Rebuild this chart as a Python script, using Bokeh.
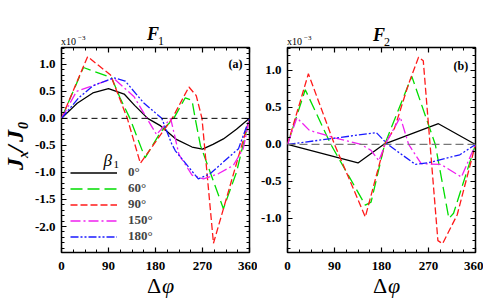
from bokeh.plotting import figure
from bokeh.layouts import row, column
from bokeh.models import (Range1d, FixedTicker, PrintfTickFormatter, LinearAxis,
                          Label, Legend, LegendItem, Span, Div)
from bokeh.embed import file_html
from bokeh.resources import INLINE

# ---------------- data (units of 1e-3) ----------------
x_ticks = [0, 90, 180, 270, 360]
x_minor = [22.5 * i for i in range(17)]
series_labels = ["0°", "60°", "90°", "150°", "180°"]

# Panel (a) F1
f1_b0_x = [0, 30, 60, 90, 120, 140, 165, 190, 220, 250, 270, 290, 310, 335, 360]
f1_b0_y = [0, 0.28, 0.47, 0.55, 0.45, 0.24, 0, -0.14, -0.39, -0.53, -0.57, -0.48, -0.38, -0.2, 0]
f1_b60_x = [0, 42, 96, 112, 131, 160, 190, 215, 237, 250, 256, 266, 310, 335, 360]
f1_b60_y = [0, 0.94, 0.75, 0.38, 0, -0.73, -0.25, 0, 0.38, 0.33, 0, -0.5, -1.67, -1.0, 0]
f1_b90_x = [0, 50, 94, 126, 151, 193, 212, 244, 258, 269, 291, 360]
f1_b90_y = [0, 1.14, 0.8, 0, -0.83, -0.26, 0, 0.58, 0.42, 0, -2.31, 0]
f1_b150_x = [0, 29, 100, 139, 182, 209, 225, 250, 272, 301, 329, 348, 360]
f1_b150_y = [0, 0.5, 0.74, 0.4, -0.3, 0, -0.67, -1.05, -1.12, -1.02, -0.87, -0.56, 0]
f1_b180_x = [0, 33, 60, 100, 122, 157, 192, 211, 218, 262, 285, 339, 360]
f1_b180_y = [0, 0.38, 0.6, 0.75, 0.69, 0.29, 0, -0.47, -0.6, -1.12, -1.02, -0.56, 0]

# Panel (b) F2
f2_b0_x = [0, 135, 184, 289, 360]
f2_b0_y = [0, -0.25, 0, 0.28, 0]
f2_b60_x = [0, 34, 83, 149, 160, 186, 238, 283, 309, 318, 360]
f2_b60_y = [0, 0.74, 0, -0.82, -0.78, 0, 0.92, 0, -1.0, -0.93, 0]
f2_b90_x = [0, 40, 90, 122, 149, 186, 205, 232, 251, 260, 273, 288, 297, 325, 360]
f2_b90_y = [0, 0.955, 0, -0.53, -0.98, 0, 0.22, 0.82, 1.18, 1.13, 0, -1.30, -1.34, -0.95, 0]
f2_b150_x = [0, 18, 42, 90, 141, 160, 175, 187, 216, 232, 256, 294, 333, 360]
f2_b150_y = [0, 0.36, 0.19, 0.09, 0, -0.08, -0.22, 0, 0.37, 0, -0.26, -0.27, -0.44, 0]
f2_b180_x = [0, 170, 192, 245, 275, 330, 360]
f2_b180_y = [0, 0.16, 0, -0.27, -0.24, -0.14, 0]

f1_yticks = [1.0, 0.5, 0.0, -0.5, -1.0, -1.5, -2.0]
f2_yticks = [1.0, 0.5, 0.0, -0.5, -1.0]
f1_yrange = (-2.48, 1.31)
f2_yrange = (-1.46, 1.31)

# ---------------- styles ----------------
colors = ["black", "#00dd00", "#ff1a1a", "#f020f0", "#1a1aff"]
dashes = ["solid", "12 5", "7 3", "10 3 2 3", "8 2 2 2 2 2"]
widths = [1.3, 1.3, 1.3, 1.3, 1.3]
SERIF = "Liberation Serif"

FRAME_W, FRAME_H = 188, 205
TOP_DIV_H = 46
BORDER_TOP = 1
BORDER_BOTTOM = 25
LEFT_DIV_W = 31
FIG_H = BORDER_TOP + FRAME_H + BORDER_BOTTOM


def tick_axis(major, minor):
    """Label-less mirrored tick axes (major and minor ticks drawn as minor ticks)."""
    axes = []
    for pos, length in ((major, 5), (minor, 3)):
        ax = LinearAxis(ticker=FixedTicker(ticks=[], minor_ticks=pos))
        ax.axis_line_color = None
        ax.major_tick_in = 0
        ax.major_tick_out = 0
        ax.minor_tick_in = length
        ax.minor_tick_out = 0
        ax.minor_tick_line_width = 1.2 if length == 5 else 1
        ax.minor_tick_line_color = "black"
        ax.major_label_standoff = 0
        axes.append(ax)
    return axes


def make_fig(yr, yticks, border_left, border_right):
    p = figure(output_backend="svg", toolbar_location=None,
               frame_width=FRAME_W, frame_height=FRAME_H,
               x_range=Range1d(0, 360), y_range=Range1d(*yr),
               min_border_left=border_left, min_border_right=border_right,
               min_border_top=BORDER_TOP, min_border_bottom=BORDER_BOTTOM,
               background_fill_color="white", border_fill_color="white")
    p.xgrid.visible = False
    p.ygrid.visible = False
    p.outline_line_color = "black"
    p.outline_line_width = 1.5
    yminor = [round(-3 + 0.1 * i, 2) for i in range(50)]
    p.xaxis.ticker = FixedTicker(ticks=x_ticks, minor_ticks=x_minor)
    p.xaxis.formatter = PrintfTickFormatter(format="%d")
    p.yaxis.ticker = FixedTicker(ticks=yticks, minor_ticks=yminor)
    p.yaxis.formatter = PrintfTickFormatter(format="%.1f")
    for ax in list(p.xaxis) + list(p.yaxis):
        ax.axis_line_color = None
        ax.major_tick_in = 5
        ax.major_tick_out = 0
        ax.minor_tick_in = 3
        ax.minor_tick_out = 0
        ax.major_tick_line_width = 1.2
        ax.minor_tick_line_width = 1
        ax.major_label_text_font = SERIF
        ax.major_label_text_font_style = "bold"
        ax.major_label_text_font_size = "13px"
        ax.major_label_text_color = "black"
    p.xaxis.major_label_standoff = 9
    p.yaxis.major_label_standoff = 6
    top_major, top_minor = tick_axis(x_ticks, x_minor)
    right_major, right_minor = tick_axis(yticks, yminor)
    p.add_layout(top_major, "above")
    p.add_layout(top_minor, "above")
    p.add_layout(right_major, "right")
    p.add_layout(right_minor, "right")
    return p


def inner_label(p, px, py, text, size, style="normal", fx=None, fy=None):
    p.add_layout(Label(x=fx(px), y=fy(py), text=text, text_font=SERIF,
                       text_font_size=size, text_font_style=style,
                       text_baseline="alphabetic", text_align="left",
                       text_color="black"))


def mk_map(px0, yr):
    def fx(px):
        return (px - px0) / FRAME_W * 360.0

    def fy(py):
        return yr[1] - (py - 47) / FRAME_H * (yr[1] - yr[0])
    return fx, fy


# ---------------- panel (a) ----------------
p1 = make_fig(f1_yrange, f1_yticks, 61 - LEFT_DIV_W, 8)
lx, ly = mk_map(61, f1_yrange)
p1.add_layout(Span(location=0, dimension="width", line_color="black",
                   line_dash="6 4", line_width=1))
f1_data = [(f1_b0_x, f1_b0_y), (f1_b60_x, f1_b60_y), (f1_b90_x, f1_b90_y),
           (f1_b150_x, f1_b150_y), (f1_b180_x, f1_b180_y)]
rends = []
for (xs, ys), c, d, w in zip(f1_data, colors, dashes, widths):
    rends.append(p1.line(xs, ys, line_color=c, line_dash=d, line_width=w))

legend = Legend(items=[LegendItem(label=lab, renderers=[r]) for lab, r in zip(series_labels, rends)],
                location=(9, 8), padding=0, margin=0, spacing=0,
                glyph_width=47, glyph_height=15, label_height=15,
                label_standoff=11, border_line_color=None,
                background_fill_alpha=0,
                label_text_font=SERIF, label_text_font_style="bold",
                label_text_font_size="13px")
p1.add_layout(legend, "center")
inner_label(p1, 103, 160, "β", "17px", "italic", lx, ly)
inner_label(p1, 113, 164, "1", "11px", "normal", lx, ly)
inner_label(p1, 228, 63, "(a)", "12px", "bold", lx, ly)

# ---------------- panel (b) ----------------
p2 = make_fig(f2_yrange, f2_yticks, 287 - 249 - 8, 8)
rx, ry = mk_map(287, f2_yrange)
p2.add_layout(Span(location=0, dimension="width", line_color="#777777",
                   line_dash="8 4", line_width=1.3))
f2_data = [(f2_b0_x, f2_b0_y), (f2_b60_x, f2_b60_y), (f2_b90_x, f2_b90_y),
           (f2_b150_x, f2_b150_y), (f2_b180_x, f2_b180_y)]
for (xs, ys), c, d, w in zip(f2_data, colors, dashes, widths):
    p2.line(xs, ys, line_color=c, line_dash=d, line_width=w)
inner_label(p2, 453, 65, "(b)", "12px", "bold", rx, ry)

# ---------------- texts outside the frames (HTML) ----------------
ASC = 0.838  # baseline offset (em) of Liberation Serif with line-height 1


def span(left, baseline, text, size, style="", origin_top=0):
    top = baseline - ASC * size - origin_top
    return (f'<span style="position:absolute;left:{left}px;top:{top:.1f}px;'
            f'font-family:\'{SERIF}\';font-size:{size}px;line-height:1;'
            f'white-space:nowrap;color:black;{style}">{text}</span>')


def vspan(baseline_x, start_y, text, size, style="", origin_top=0):
    left = baseline_x - ASC * size
    top = start_y - origin_top
    return (f'<span style="position:absolute;left:{left:.1f}px;top:{top:.1f}px;'
            f'font-family:\'{SERIF}\';font-size:{size}px;line-height:1;'
            f'white-space:nowrap;color:black;transform-origin:0 0;'
            f'transform:rotate(-90deg);{style}">{text}</span>')


BI = "font-weight:bold;font-style:italic;"
IT = "font-style:italic;"

top_html = ('<div style="position:relative;width:476px;height:%dpx;">' % TOP_DIV_H
            + span(147, 40, "F", 18, BI) + span(158, 45, "1", 12)
            + span(373, 41, "F", 18, BI) + span(384, 46, "2", 12)
            + span(61, 45, "x10", 10) + span(78, 41, "−3", 7)
            + span(287, 45, "x10", 10) + span(304, 41, "−3", 7)
            + '</div>')
top_div = Div(text=top_html, width=476, height=TOP_DIV_H, margin=0)

OT = TOP_DIV_H
left_html = ('<div style="position:relative;width:%dpx;height:%dpx;">' % (LEFT_DIV_W, FIG_H)
             + vspan(23, 170, "J", 24, BI, OT)
             + vspan(29, 158, "x", 14, BI, OT)
             + vspan(23, 152, "/", 24, BI, OT)
             + vspan(23, 142, "J", 24, BI, OT)
             + vspan(29, 129, "0", 14, BI, OT)
             + '</div>')
left_div = Div(text=left_html, width=LEFT_DIV_W, height=FIG_H, margin=0)

OB = TOP_DIV_H + FIG_H
BOT_H = 21
bot_html = ('<div style="position:relative;width:476px;height:%dpx;">' % BOT_H
            + span(147, 293, "Δ", 22, "", OB) + span(162, 293, "φ", 22, IT, OB)
            + span(373, 293, "Δ", 22, "", OB) + span(388, 293, "φ", 22, IT, OB)
            + '</div>')
bot_div = Div(text=bot_html, width=476, height=BOT_H, margin=0)

layout = column(top_div, row(left_div, p1, p2), bot_div)
open("out.html", "w").write(file_html(layout, INLINE))
